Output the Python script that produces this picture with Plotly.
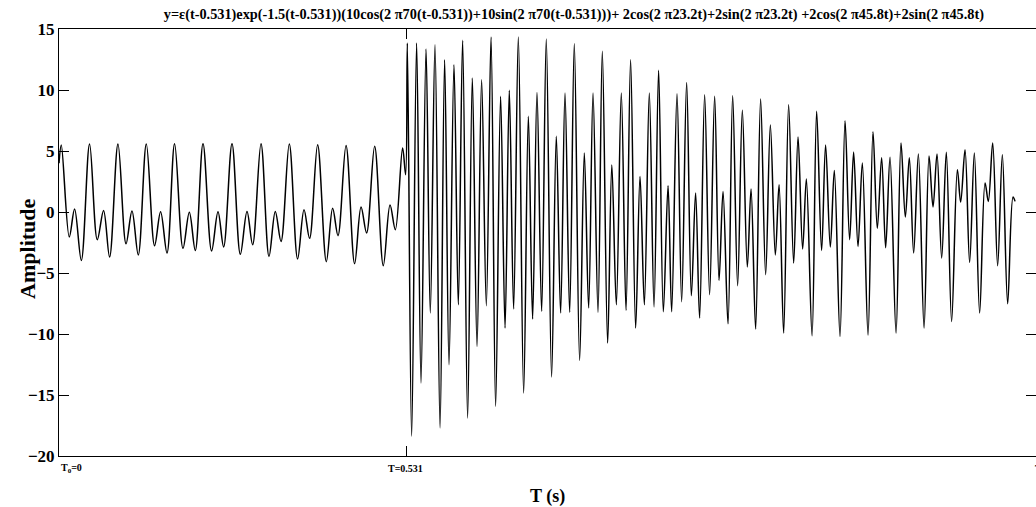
import plotly.graph_objects as go

# ---- data (extrema of the waveform) ----
t_pre = [0.0, 0.0035, 0.0157, 0.0238, 0.0341, 0.0467, 0.0585, 0.0681, 0.0773, 0.0901,
         0.1024, 0.1115, 0.1211, 0.1334, 0.1460, 0.1552, 0.1650, 0.1766, 0.1894, 0.1991,
         0.2082, 0.2200, 0.2331, 0.2429, 0.2515, 0.2643, 0.2770, 0.2872, 0.2958, 0.3086,
         0.3208, 0.3304, 0.3392, 0.3518, 0.3645, 0.3743, 0.3828, 0.3951, 0.4084, 0.4180,
         0.4262, 0.4385, 0.4516, 0.4614, 0.4699, 0.4822, 0.4954, 0.5057, 0.5138, 0.5249,
         0.5295]
amp_pre = [4.0, 5.5, -2.05, 0.25, -3.97, 5.57, -2.27, 0.13, -3.69, 5.57,
           -2.6, 0.08, -3.52, 5.57, -2.76, 0.02, -3.36, 5.6, -2.98, -0.03,
           -3.15, 5.6, -3.2, 0.02, -2.87, 5.6, -3.47, 0.05, -2.68, 5.6,
           -3.64, 0.05, -2.41, 5.57, -3.85, 0.19, -2.16, 5.52, -4.07, 0.3,
           -1.94, 5.46, -4.24, 0.41, -1.72, 5.38, -4.4, 0.57, -1.45, 5.25,
           3.06]

t_post = [0.5321, 0.5387, 0.5463, 0.5530, 0.5607, 0.5672, 0.5744, 0.5821, 0.5891, 0.5958,
          0.6034, 0.6100, 0.6166, 0.6242, 0.6314, 0.6386, 0.6456, 0.6528, 0.6600, 0.6670,
          0.6746, 0.6814, 0.6879, 0.6945, 0.7017, 0.7098, 0.7170, 0.7235, 0.7302, 0.7373,
          0.7444, 0.7525, 0.7597, 0.7663, 0.7730, 0.7801, 0.7872, 0.7953, 0.8025, 0.8091,
          0.8158, 0.8234, 0.8300, 0.8381, 0.8445, 0.8514, 0.8590, 0.8662, 0.8732, 0.8809,
          0.8876, 0.8942, 0.9018, 0.9090, 0.9160, 0.9232, 0.9304, 0.9359, 0.9441, 0.9512,
          0.9588, 0.9660, 0.9725, 0.9786, 0.9863, 0.9939, 1.0016, 1.0083, 1.0144, 1.0220,
          1.0291, 1.0367, 1.0439, 1.0515, 1.0572, 1.0642, 1.0718, 1.0795, 1.0867, 1.0943,
          1.1000, 1.1070, 1.1146, 1.1223, 1.1290, 1.1360, 1.1417, 1.1504, 1.1574, 1.1650,
          1.1711, 1.1783, 1.1844, 1.1931, 1.2008, 1.2078, 1.2139, 1.2206, 1.2272, 1.2359,
          1.2435, 1.2501, 1.2567, 1.2628, 1.2695, 1.2787, 1.2863, 1.2929, 1.2990, 1.3056,
          1.3128, 1.3215, 1.3291, 1.3352, 1.3413, 1.3484, 1.3555, 1.3636, 1.3724, 1.3774,
          1.3841, 1.3911, 1.3983, 1.4064, 1.4147, 1.4197, 1.4263, 1.4339, 1.4411, 1.4492,
          1.4574, 1.4605]
amp_post = [13.85, -18.39, 13.85, -14.02, 13.36, -8.28, 13.71, -17.7, 12.48, -12.52,
            12.07, -7.6, 14.07, -16.89, 10.98, -11.02, 10.84, -7.68, 14.34, -15.93,
            9.48, -9.51, 9.97, -7.95, 14.34, -14.84, 7.84, -8.77, 9.8, -8.15,
            14.18, -13.52, 6.2, -8.28, 9.75, -8.23, 13.8, -12.16, 4.84, -7.87,
            9.75, -8.23, 13.17, -10.74, 3.85, -7.6, 9.75, -8.07, 12.48, -9.51,
            2.92, -7.6, 9.75, -7.79, 11.61, -8.17, 2.16, -8.17, 9.7, -7.35,
            10.62, -6.86, 1.56, -8.69, 9.61, -6.78, 9.48, -5.6, 1.69, -9.16,
            9.53, -6.04, 8.33, -4.51, 1.89, -9.59, 9.26, -5.14, 7.13, -3.52,
            2.24, -9.92, 8.8, -4.18, 6.15, -3.03, 2.7, -10.14, 8.25, -3.15,
            5.49, -2.87, 3.41, -10.2, 7.48, -2.27, 4.92, -2.82, 4.02, -10.08,
            6.58, -1.34, 4.45, -2.93, 4.48, -9.92, 5.66, -0.41, 4.45, -3.36,
            4.75, -9.51, 4.58, 0.41, 4.75, -3.77, 4.89, -8.97, 3.47, 0.82,
            5.11, -4.13, 4.84, -8.28, 2.38, 0.87, 5.66, -4.4, 4.7, -7.52,
            1.23, 0.87]

x_tick_vals = [0.531]
y_tick_vals = [-20, -15, -10, -5, 0, 5, 10, 15]
x_marker_labels = ["T<sub>0</sub>=0", "T=0.531", "T=1.5"]
x_marker_pos = [0.0, 0.5, 1.4885]

title_text = ("y=ε(t-0.531)exp(-1.5(t-0.531))(10cos(2 π70(t-0.531))+10sin(2 π70(t-0.531)))+ "
              "2cos(2 π23.2t)+2sin(2 π23.2t) +2cos(2 π45.8t)+2sin(2 π45.8t)")

FONT = "Liberation Serif, Times New Roman, serif"

fig = go.Figure()
fig.add_trace(go.Scatter(
    x=t_pre + t_post, y=amp_pre + amp_post, mode="lines",
    line=dict(color="black", width=1.5, shape="spline", smoothing=1),
    hoverinfo="skip", showlegend=False))

fig.update_layout(
    width=1036, height=507,
    margin=dict(l=59, r=0, t=29, b=51),
    paper_bgcolor="white", plot_bgcolor="white",
    font=dict(family=FONT, color="black"),
    title=dict(text=title_text, x=0.527, xref="paper", xanchor="center",
               y=1 - 14 / 507, yanchor="middle",
               font=dict(family=FONT, size=14.3, weight="bold", color="black")),
    xaxis=dict(range=[0, 1.4925], showgrid=False, zeroline=False,
               showline=True, linecolor="black", linewidth=1, mirror="ticks",
               ticks="inside", ticklen=10, tickcolor="black", tickwidth=1,
               tickvals=x_tick_vals, showticklabels=False),
    yaxis=dict(range=[-20, 15], showgrid=False, zeroline=False,
               showline=True, linecolor="black", linewidth=1, mirror="ticks",
               ticks="inside", ticklen=10, tickcolor="black", tickwidth=1,
               tickvals=y_tick_vals,
               tickfont=dict(family=FONT, size=17, weight="bold", color="black")),
)

for lab, pos in zip(x_marker_labels, x_marker_pos):
    fig.add_annotation(x=pos, xref="x", y=-12 / 427, yref="paper",
                       text=lab, showarrow=False, xanchor="left", yanchor="middle",
                       font=dict(family=FONT, size=10, weight="bold", color="black"))

fig.add_annotation(x=0.5, xref="paper", y=-41 / 427, yref="paper", text="T (s)",
                   showarrow=False, xanchor="center", yanchor="middle",
                   font=dict(family=FONT, size=18, weight="bold", color="black"))
fig.add_annotation(x=-31 / 977, xref="paper", y=0.485, yref="paper", text="Amplitude",
                   textangle=-90, showarrow=False, xanchor="center", yanchor="middle",
                   font=dict(family=FONT, size=22, weight="bold", color="black"))

fig.write_html("out.html")
